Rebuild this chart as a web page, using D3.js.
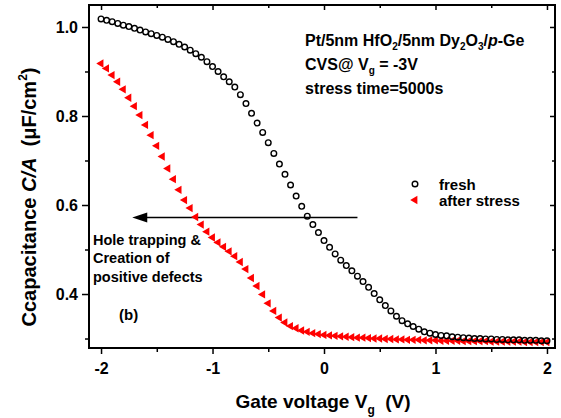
<!DOCTYPE html>
<html>
<head>
<meta charset="utf-8">
<script src="https://cdn.jsdelivr.net/npm/d3@7"></script>
<style>
  body { margin: 0; background: #fff; }
  text { font-family: "Liberation Sans", Arial, sans-serif; font-weight: bold; white-space: pre; }
</style>
</head>
<body>
<div class="chart"></div>
<script>
// gate voltage steps (V), same for both sweeps
var voltages = d3.range(81).map(i => +(-2 + i * 0.05).toFixed(2));

// fresh device C/A (uF/cm2)
var freshCap = [
  1.018, 1.015, 1.012, 1.008, 1.004, 1.001, 0.997, 0.993, 0.989, 0.985,
  0.981, 0.977, 0.972, 0.967, 0.961, 0.955, 0.948, 0.940, 0.932, 0.922,
  0.911, 0.900, 0.888, 0.877, 0.865, 0.848, 0.828, 0.806, 0.784, 0.763,
  0.740, 0.716, 0.692, 0.669, 0.645, 0.620, 0.597, 0.575, 0.556, 0.538,
  0.520, 0.505, 0.490, 0.476, 0.464, 0.452, 0.440, 0.428, 0.415, 0.401,
  0.387, 0.374, 0.362, 0.350, 0.340, 0.333, 0.327, 0.321, 0.315, 0.312,
  0.309, 0.307, 0.306, 0.304, 0.303, 0.302, 0.301, 0.300, 0.300, 0.299,
  0.299, 0.298, 0.298, 0.297, 0.297, 0.297, 0.296, 0.296, 0.296, 0.295,
  0.295
];

// after stress C/A (uF/cm2)
var stressCap = [
  0.918, 0.907, 0.892, 0.877, 0.860, 0.841, 0.822, 0.802, 0.780, 0.757,
  0.733, 0.709, 0.682, 0.658, 0.634, 0.611, 0.593, 0.573, 0.556, 0.540,
  0.527, 0.516, 0.506, 0.496, 0.485, 0.472, 0.456, 0.436, 0.418, 0.399,
  0.379, 0.362, 0.347, 0.336, 0.328, 0.323, 0.318, 0.315, 0.312, 0.310,
  0.308, 0.307, 0.306, 0.305, 0.304, 0.303, 0.302, 0.302, 0.301, 0.300,
  0.300, 0.299, 0.299, 0.298, 0.298, 0.297, 0.297, 0.297, 0.296, 0.296,
  0.296, 0.295, 0.295, 0.295, 0.295, 0.294, 0.294, 0.294, 0.294, 0.294,
  0.293, 0.293, 0.293, 0.293, 0.293, 0.293, 0.292, 0.292, 0.292, 0.292,
  0.292
];

var xTicks = [-2, -1, 0, 1, 2];
var xMinor = [-1.5, -0.5, 0.5, 1.5];
var yTicks = [0.4, 0.6, 0.8, 1.0];
var yMinor = [0.3, 0.5, 0.7, 0.9];

// svg params
var svgWidth = 561;
var svgHeight = 418;
var margin = { top: 5, right: 6, bottom: 70, left: 89 };
var width = svgWidth - margin.left - margin.right;
var height = svgHeight - margin.top - margin.bottom;

var svg = d3.select(".chart")
  .append("svg")
  .attr("width", svgWidth)
  .attr("height", svgHeight);

svg.append("rect")
  .attr("width", svgWidth)
  .attr("height", svgHeight)
  .attr("fill", "#fff");

var chartGroup = svg.append("g")
  .attr("transform", `translate(${margin.left}, ${margin.top})`);

// scales
var xScale = d3.scaleLinear().domain([-2.108, 2.072]).range([0, width]);
var yScale = d3.scaleLinear().domain([0.2787, 1.0494]).range([height, 0]);

// axes: bottom/left ticks out, top/right ticks in
function styleAxis(g) {
  g.select(".domain").remove();
  g.selectAll("line").attr("stroke", "#000").attr("stroke-width", 1.5);
  g.selectAll("text").attr("font-size", 16).attr("fill", "#000");
}

chartGroup.append("g")
  .attr("transform", `translate(0, ${height})`)
  .call(d3.axisBottom(xScale).tickValues(xTicks).tickFormat(d => String(d))
    .tickSizeInner(6).tickSizeOuter(0).tickPadding(9))
  .call(styleAxis);
chartGroup.append("g")
  .attr("transform", `translate(0, ${height})`)
  .call(d3.axisBottom(xScale).tickValues(xMinor).tickFormat("").tickSizeInner(4).tickSizeOuter(0))
  .call(styleAxis);

chartGroup.append("g")
  .call(d3.axisTop(xScale).tickValues(xTicks).tickFormat("").tickSizeInner(-5).tickSizeOuter(0))
  .call(styleAxis);
chartGroup.append("g")
  .call(d3.axisTop(xScale).tickValues(xMinor).tickFormat("").tickSizeInner(-3).tickSizeOuter(0))
  .call(styleAxis);

chartGroup.append("g")
  .call(d3.axisLeft(yScale).tickValues(yTicks).tickFormat(d3.format(".1f"))
    .tickSizeInner(7).tickSizeOuter(0).tickPadding(4))
  .call(styleAxis);
chartGroup.append("g")
  .call(d3.axisLeft(yScale).tickValues(yMinor).tickFormat("").tickSizeInner(4).tickSizeOuter(0))
  .call(styleAxis);

chartGroup.append("g")
  .attr("transform", `translate(${width}, 0)`)
  .call(d3.axisRight(yScale).tickValues(yTicks).tickFormat("").tickSizeInner(-5).tickSizeOuter(0))
  .call(styleAxis);
chartGroup.append("g")
  .attr("transform", `translate(${width}, 0)`)
  .call(d3.axisRight(yScale).tickValues(yMinor).tickFormat("").tickSizeInner(-3).tickSizeOuter(0))
  .call(styleAxis);

// frame
chartGroup.append("rect")
  .attr("width", width)
  .attr("height", height)
  .attr("fill", "none")
  .attr("stroke", "#000")
  .attr("stroke-width", 2);

// arrow (hole trapping shift)
var arrowY = 0.572;
chartGroup.append("line")
  .attr("x1", xScale(0.30)).attr("x2", xScale(-1.60))
  .attr("y1", yScale(arrowY)).attr("y2", yScale(arrowY))
  .attr("stroke", "#000").attr("stroke-width", 1.5);
var tipX = xScale(-1.72), tipY = yScale(arrowY);
chartGroup.append("path")
  .attr("d", `M${tipX},${tipY} L${tipX + 15},${tipY - 5} L${tipX + 15},${tipY + 5} Z`)
  .attr("fill", "#000");

// data points
var freshData = voltages.map((v, i) => ({ v: v, c: freshCap[i] }));
var stressData = voltages.map((v, i) => ({ v: v, c: stressCap[i] }));

var tri = d3.symbol().type(d3.symbolTriangle).size(30);

chartGroup.selectAll(".stress")
  .data(stressData)
  .enter()
  .append("path")
  .attr("class", "stress")
  .attr("d", tri)
  .attr("transform", d => `translate(${xScale(d.v)}, ${yScale(d.c)}) rotate(-90)`)
  .attr("fill", "#ff0000");

chartGroup.selectAll(".fresh")
  .data(freshData)
  .enter()
  .append("circle")
  .attr("class", "fresh")
  .attr("cx", d => xScale(d.v))
  .attr("cy", d => yScale(d.c))
  .attr("r", 2.8)
  .attr("fill", "none")
  .attr("stroke", "#000")
  .attr("stroke-width", 1.4);

// legend
chartGroup.append("circle")
  .attr("cx", 326).attr("cy", 179).attr("r", 2.8)
  .attr("fill", "none").attr("stroke", "#000").attr("stroke-width", 1.4);
chartGroup.append("text").attr("x", 350).attr("y", 185).attr("font-size", 15).text("fresh");
chartGroup.append("path")
  .attr("d", tri)
  .attr("transform", "translate(326, 195) rotate(-90)")
  .attr("fill", "#ff0000");
chartGroup.append("text").attr("x", 350).attr("y", 201).attr("font-size", 15).text("after stress");

// annotation block
var note = chartGroup.append("g").attr("font-size", 16);
var l1 = note.append("text").attr("x", 216).attr("y", 41);
l1.append("tspan").text("Pt/5nm HfO");
l1.append("tspan").attr("font-size", 10).attr("dy", 4).text("2");
l1.append("tspan").attr("dy", -4).text("/5nm Dy");
l1.append("tspan").attr("font-size", 10).attr("dy", 4).text("2");
l1.append("tspan").attr("dy", -4).text("O");
l1.append("tspan").attr("font-size", 10).attr("dy", 4).text("3");
l1.append("tspan").attr("dy", -4).text("/");
l1.append("tspan").attr("font-style", "italic").text("p");
l1.append("tspan").text("-Ge");

var l2 = note.append("text").attr("x", 216).attr("y", 65);
l2.append("tspan").text("CVS@ V");
l2.append("tspan").attr("font-size", 10).attr("dy", 4).text("g");
l2.append("tspan").attr("dy", -4).text(" = -3V");

note.append("text").attr("x", 216).attr("y", 89).text("stress time=5000s");

var hole = chartGroup.append("g").attr("font-size", 14.5);
hole.append("text").attr("x", 4).attr("y", 240).text("Hole trapping &");
hole.append("text").attr("x", 4).attr("y", 258).text("Creation of");
hole.append("text").attr("x", 4).attr("y", 277).text("positive defects");

chartGroup.append("text").attr("x", 30).attr("y", 315).attr("font-size", 15).text("(b)");

// axis labels
var xLab = svg.append("text")
  .attr("x", 323).attr("y", 408)
  .attr("text-anchor", "middle")
  .attr("font-size", 19);
xLab.append("tspan").text("Gate voltage V");
xLab.append("tspan").attr("font-size", 12).attr("dy", 6).text("g");
xLab.append("tspan").attr("dy", -6).text("  (V)");

var yLab = svg.append("text")
  .attr("transform", "translate(36, 197) rotate(-90)")
  .attr("text-anchor", "middle")
  .attr("font-size", 20);
yLab.append("tspan").text("Ccapacitance ");
yLab.append("tspan").attr("font-style", "italic").text("C/A");
yLab.append("tspan").text("  (\u03bcF/cm");
yLab.append("tspan").attr("font-size", 12).attr("dy", -9).text("2");
yLab.append("tspan").attr("dy", 9).text(")");
</script>
</body>
</html>
